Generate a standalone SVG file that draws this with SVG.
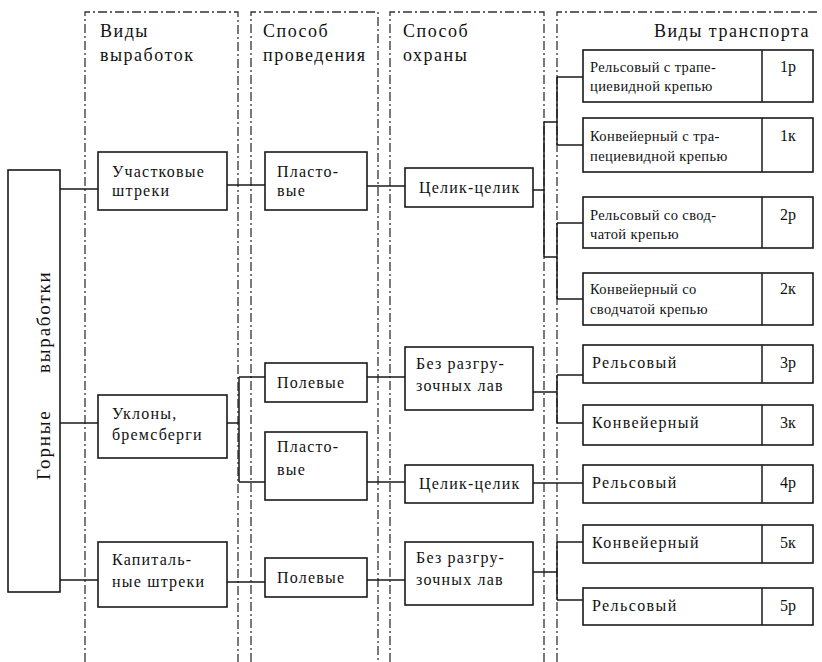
<svg xmlns="http://www.w3.org/2000/svg" width="822" height="662" viewBox="0 0 822 662" font-family="Liberation Serif, serif">
<style>
.col{fill:none;stroke:#333;stroke-width:1.3;stroke-dasharray:9 3 2 3}
.box{fill:#fff;stroke:#1a1a1a;stroke-width:1.6}
.ln{fill:none;stroke:#1a1a1a;stroke-width:1.5}
.h{font-size:18px;letter-spacing:1.5px;fill:#111}
.t{font-size:16px;letter-spacing:1.2px;fill:#111}
.s{font-size:14.5px;letter-spacing:0.4px;fill:#111}
.s1{font-size:16px;letter-spacing:1.4px;fill:#111}
.n{font-size:16px;text-anchor:middle;fill:#111}
.v{font-size:19px;letter-spacing:1.8px;fill:#111}
</style>
<rect width="822" height="662" fill="#fff"/>
<g id="columns">
<path class="col" d="M85,662V12H238V662"/>
<path class="col" d="M251,662V12H378V662"/>
<path class="col" d="M390,662V12H544V662"/>
<path class="col" d="M557,662V12H817"/>
<text class="h" font-family="Liberation Serif, serif" x="100" y="37">Виды</text>
<text class="h" font-family="Liberation Serif, serif" x="100" y="61">выработок</text>
<text class="h" font-family="Liberation Serif, serif" x="263" y="37">Способ</text>
<text class="h" font-family="Liberation Serif, serif" x="263" y="61">проведения</text>
<text class="h" font-family="Liberation Serif, serif" x="403" y="37">Способ</text>
<text class="h" font-family="Liberation Serif, serif" x="403" y="61">охраны</text>
<text class="h" font-family="Liberation Serif, serif" x="810" y="37" text-anchor="end">Виды транспорта</text>
</g>
<g id="connectors">
<path class="ln" d="M60,189H98M60,423H98M60,580H98"/>
<path class="ln" d="M227,185H265M227,423H239M239,377V482M239,377H265M239,482H265M227,582H265"/>
<path class="ln" d="M367,186H405M367,377H405M367,482H405M367,580H405"/>
<path class="ln" d="M533,190H544M544,122V257M544,122H557M557,77V145M557,77H583M557,145H583M544,257H557M557,223V299M557,223H583M557,299H583"/>
<path class="ln" d="M533,392H557M557,375V423M557,375H583M557,423H583"/>
<path class="ln" d="M533,483H583"/>
<path class="ln" d="M533,572H557M557,542V600M557,542H583M557,600H583"/>
</g>
<g id="gornye">
<rect class="box" x="8" y="170" width="52" height="422"/>
<text class="v" font-family="Liberation Serif, serif" transform="translate(50,480) rotate(-90)">Горные</text>
<text class="v" font-family="Liberation Serif, serif" transform="translate(50,373) rotate(-90)">выработки</text>
</g>
<g id="uchastkovye">
<rect class="box" x="98" y="152" width="129" height="58"/>
<text class="t" font-family="Liberation Serif, serif" x="112" y="177">Участковые</text>
<text class="t" font-family="Liberation Serif, serif" x="112" y="196">штреки</text>
</g>
<g id="uklony">
<rect class="box" x="98" y="395" width="129" height="63"/>
<text class="t" font-family="Liberation Serif, serif" x="112" y="419">Уклоны,</text>
<text class="t" font-family="Liberation Serif, serif" x="112" y="440">бремсберги</text>
</g>
<g id="kapitalnye">
<rect class="box" x="98" y="542" width="129" height="65"/>
<text class="t" font-family="Liberation Serif, serif" x="112" y="565">Капиталь-</text>
<text class="t" font-family="Liberation Serif, serif" x="112" y="587">ные штреки</text>
</g>
<g id="plastovye1">
<rect class="box" x="265" y="152" width="102" height="58"/>
<text class="t" font-family="Liberation Serif, serif" x="277" y="177">Пласто-</text>
<text class="t" font-family="Liberation Serif, serif" x="277" y="196">вые</text>
</g>
<g id="polevye1">
<rect class="box" x="265" y="363" width="102" height="39"/>
<text class="t" font-family="Liberation Serif, serif" x="277" y="388">Полевые</text>
</g>
<g id="plastovye2">
<rect class="box" x="265" y="432" width="102" height="68"/>
<text class="t" font-family="Liberation Serif, serif" x="277" y="452">Пласто-</text>
<text class="t" font-family="Liberation Serif, serif" x="277" y="475">вые</text>
</g>
<g id="polevye2">
<rect class="box" x="265" y="558" width="102" height="39"/>
<text class="t" font-family="Liberation Serif, serif" x="277" y="583">Полевые</text>
</g>
<g id="celik1">
<rect class="box" x="405" y="168" width="128" height="39"/>
<text class="t" font-family="Liberation Serif, serif" x="419" y="193">Целик-целик</text>
</g>
<g id="bez1">
<rect class="box" x="405" y="347" width="128" height="63"/>
<text class="t" font-family="Liberation Serif, serif" x="416" y="369">Без разгру-</text>
<text class="t" font-family="Liberation Serif, serif" x="416" y="391">зочных лав</text>
</g>
<g id="celik2">
<rect class="box" x="405" y="465" width="128" height="38"/>
<text class="t" font-family="Liberation Serif, serif" x="419" y="489">Целик-целик</text>
</g>
<g id="bez2">
<rect class="box" x="405" y="542" width="128" height="63"/>
<text class="t" font-family="Liberation Serif, serif" x="416" y="563">Без разгру-</text>
<text class="t" font-family="Liberation Serif, serif" x="416" y="585">зочных лав</text>
</g>
<g id="t1">
<rect class="box" x="583" y="50" width="230" height="52"/>
<path class="ln" d="M762,50V102"/>
<text class="s" font-family="Liberation Serif, serif" x="590" y="72">Рельсовый с трапе-</text>
<text class="s" font-family="Liberation Serif, serif" x="590" y="91">циевидной крепью</text>
<text class="n" font-family="Liberation Serif, serif" x="788" y="72">1р</text>
</g>
<g id="t2">
<rect class="box" x="583" y="118" width="230" height="54"/>
<path class="ln" d="M762,118V172"/>
<text class="s" font-family="Liberation Serif, serif" x="590" y="141">Конвейерный с тра-</text>
<text class="s" font-family="Liberation Serif, serif" x="590" y="161">пециевидной крепью</text>
<text class="n" font-family="Liberation Serif, serif" x="788" y="141">1к</text>
</g>
<g id="t3">
<rect class="box" x="583" y="197" width="230" height="51"/>
<path class="ln" d="M762,197V248"/>
<text class="s" font-family="Liberation Serif, serif" x="590" y="220">Рельсовый со свод-</text>
<text class="s" font-family="Liberation Serif, serif" x="590" y="239">чатой крепью</text>
<text class="n" font-family="Liberation Serif, serif" x="788" y="220">2р</text>
</g>
<g id="t4">
<rect class="box" x="583" y="273" width="230" height="52"/>
<path class="ln" d="M762,273V325"/>
<text class="s" font-family="Liberation Serif, serif" x="590" y="294">Конвейерный со</text>
<text class="s" font-family="Liberation Serif, serif" x="590" y="314">сводчатой крепью</text>
<text class="n" font-family="Liberation Serif, serif" x="788" y="294">2к</text>
</g>
<g id="t5">
<rect class="box" x="583" y="345" width="230" height="38"/>
<path class="ln" d="M762,345V383"/>
<text class="s1" font-family="Liberation Serif, serif" x="592" y="368">Рельсовый</text>
<text class="n" font-family="Liberation Serif, serif" x="788" y="368">3р</text>
</g>
<g id="t6">
<rect class="box" x="583" y="405" width="230" height="40"/>
<path class="ln" d="M762,405V445"/>
<text class="s1" font-family="Liberation Serif, serif" x="592" y="428">Конвейерный</text>
<text class="n" font-family="Liberation Serif, serif" x="788" y="428">3к</text>
</g>
<g id="t7">
<rect class="box" x="583" y="465" width="230" height="38"/>
<path class="ln" d="M762,465V503"/>
<text class="s1" font-family="Liberation Serif, serif" x="592" y="488">Рельсовый</text>
<text class="n" font-family="Liberation Serif, serif" x="788" y="488">4р</text>
</g>
<g id="t8">
<rect class="box" x="583" y="525" width="230" height="38"/>
<path class="ln" d="M762,525V563"/>
<text class="s1" font-family="Liberation Serif, serif" x="592" y="548">Конвейерный</text>
<text class="n" font-family="Liberation Serif, serif" x="788" y="548">5к</text>
</g>
<g id="t9">
<rect class="box" x="583" y="588" width="230" height="37"/>
<path class="ln" d="M762,588V625"/>
<text class="s1" font-family="Liberation Serif, serif" x="592" y="611">Рельсовый</text>
<text class="n" font-family="Liberation Serif, serif" x="788" y="611">5р</text>
</g>
</svg>
